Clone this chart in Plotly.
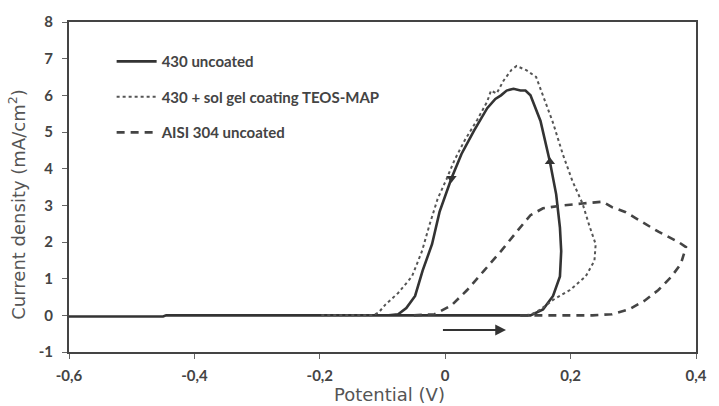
import plotly.graph_objects as go

# 430 uncoated (solid)
s_x = [-0.60, -0.45, -0.445, 0.10, 0.136, 0.156, 0.172, 0.183, 0.185, 0.183, 0.177, 0.167,
       0.152, 0.136, 0.128, 0.120, 0.109, 0.098, 0.089, 0.080, 0.067, 0.046, 0.026, 0.010,
       0.002, -0.009, -0.021, -0.036, -0.048, -0.062, -0.075, -0.09, -0.12]
s_y = [-0.03, -0.03, 0.0, 0.0, 0.0, 0.16, 0.53, 1.06, 1.75, 2.39, 3.30, 4.19,
       5.30, 6.00, 6.13, 6.13, 6.18, 6.13, 6.00, 5.90, 5.65, 5.04, 4.40, 3.74,
       3.34, 2.82, 1.94, 1.22, 0.53, 0.20, 0.03, 0.0, 0.0]

# 430 + sol gel coating TEOS-MAP (dotted)
d_x = [0.12, 0.137, 0.152, 0.172, 0.199, 0.224, 0.238, 0.240, 0.230, 0.219, 0.203, 0.188,
       0.172, 0.156, 0.145, 0.130, 0.114, 0.106, 0.093, 0.082, 0.073, 0.067, 0.051, 0.031,
       0.015, 0.002, -0.012, -0.025, -0.037, -0.053, -0.075, -0.095, -0.106, -0.115, -0.20]
d_y = [0.0, 0.02, 0.16, 0.42, 0.69, 1.06, 1.49, 1.94, 2.44, 3.05, 3.66, 4.37,
       5.25, 5.96, 6.50, 6.68, 6.80, 6.70, 6.40, 6.05, 6.13, 5.83, 5.33, 4.77,
       4.24, 3.71, 3.18, 2.47, 1.75, 1.06, 0.61, 0.30, 0.08, 0.0, 0.0]

# AISI 304 uncoated (dashed)
a_x = [-0.05, -0.017, 0.010, 0.035, 0.062, 0.089, 0.114, 0.136, 0.156, 0.188, 0.219, 0.251,
       0.266, 0.287, 0.303, 0.340, 0.372, 0.384, 0.376, 0.361, 0.340, 0.318, 0.293, 0.266,
       0.235, 0.12]
a_y = [0.0, 0.03, 0.27, 0.69, 1.22, 1.75, 2.28, 2.73, 2.92, 3.00, 3.05, 3.10,
       2.95, 2.82, 2.66, 2.28, 2.00, 1.86, 1.41, 1.06, 0.69, 0.40, 0.16, 0.03,
       0.0, 0.0]

# direction arrowheads on the solid curve
arr_x = [0.010, 0.167]
arr_y = [3.74, 4.19]
arr_sym = ["triangle-down", "triangle-up"]

# sweep direction arrow
sweep_x = [-0.006, 0.097]
sweep_y = [-0.40, -0.40]

x_ticks = [-0.6, -0.4, -0.2, 0, 0.2, 0.4]
x_ticktext = ["-0,6", "-0,4", "-0,2", "0", "0,2", "0,4"]
y_ticks = [-1, 0, 1, 2, 3, 4, 5, 6, 7, 8]
y_ticktext = ["-1", "0", "1", "2", "3", "4", "5", "6", "7", "8"]

fig = go.Figure()
fig.add_trace(go.Scatter(x=s_x, y=s_y, mode="lines", name="430 uncoated",
                         legendgroup="a",
                         line=dict(color="#333333", width=2.6)))
fig.add_trace(go.Scatter(x=d_x, y=d_y, mode="lines", name="430 + sol gel coating TEOS-MAP",
                         legendgroup="b",
                         line=dict(color="#555555", width=2, dash="dot")))
fig.add_trace(go.Scatter(x=a_x, y=a_y, mode="lines", name="AISI 304 uncoated",
                         legendgroup="c",
                         line=dict(color="#444444", width=2.6, dash="8px,6px")))
fig.add_trace(go.Scatter(x=arr_x, y=arr_y, mode="markers", showlegend=False,
                         marker=dict(symbol=arr_sym, size=9, color="#333333")))

fig.add_annotation(x=sweep_x[1], y=sweep_y[1], ax=sweep_x[0], ay=sweep_y[0],
                   xref="x", yref="y", axref="x", ayref="y", text="",
                   showarrow=True, arrowhead=2, arrowsize=1.2, arrowwidth=1.8,
                   arrowcolor="#333333")

title_font = dict(family="DejaVu Sans", size=18, color="#555555")
fig.add_annotation(text="Current density (mA/cm<sup>2</sup>)", xref="paper", yref="paper",
                   x=-0.082, y=0.445, textangle=-90, showarrow=False,
                   xanchor="center", yanchor="middle", font=title_font)
fig.add_annotation(text="Potential (V)", xref="paper", yref="paper",
                   x=0.0, xshift=320, y=0, yshift=-42, showarrow=False,
                   xanchor="center", yanchor="middle", font=title_font)

tick_font = dict(family="Lato", size=15, color="#444444", weight="bold")
fig.update_xaxes(range=[-0.6, 0.4], tickvals=x_ticks, ticktext=x_ticktext,
                 showgrid=False, zeroline=False, showline=True, linewidth=2,
                 linecolor="#444444", mirror=True, ticks="outside", ticklen=5,
                 tickwidth=1, tickcolor="#666666", tickfont=tick_font,
                 ticklabelstandoff=4)
fig.update_yaxes(range=[-1, 8], tickvals=y_ticks, ticktext=y_ticktext,
                 showgrid=False, zeroline=False, showline=True, linewidth=2,
                 linecolor="#444444", mirror=True, ticks="outside", ticklen=5,
                 tickwidth=1, tickcolor="#666666", tickfont=tick_font,
                 ticklabelstandoff=6)

fig.update_layout(
    width=719, height=406,
    margin=dict(l=69, r=14, t=13, b=54),
    paper_bgcolor="white", plot_bgcolor="white",
    legend=dict(x=0.068, y=0.93, xanchor="left", yanchor="top",
                bgcolor="rgba(0,0,0,0)", tracegroupgap=13,
                font=dict(family="Lato", size=15, color="#444444", weight="bold"),
                itemwidth=40),
)

fig.write_html("out.html")
